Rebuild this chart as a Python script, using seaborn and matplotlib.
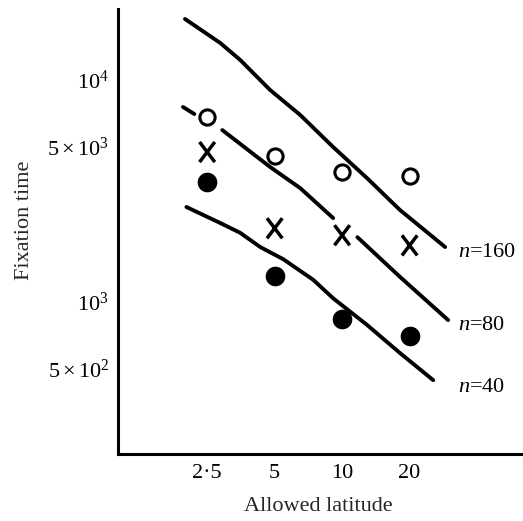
import numpy as np
import pandas as pd
import matplotlib
matplotlib.use('Agg')
import matplotlib.pyplot as plt
import seaborn as sns
from matplotlib.path import Path

# ---- data ----
latitude = [2.5, 5, 10, 20]
time_open = [6810, 4550, 3850, 3700]
time_cross = [4740, 2150, 2000, 1800]
time_filled = [3470, 1310, 840, 700]

n160_x = [1.99, 2.86, 3.51, 4.77, 6.50, 9.12, 12.9, 18.1, 28.8]
n160_y = [18830, 14680, 12310, 9020, 6960, 4990, 3620, 2600, 1770]

n80_x = [1.95, 2.19, 2.92, 4.77, 6.50, 9.12, 11.7, 18.1, 29.7]
n80_y = [7560, 7030, 5950, 4060, 3260, 2390, 1960, 1300, 830]
n80_seg = [0, 0, 1, 1, 1, 1, 2, 2, 2]

n40_x = [2.02, 2.86, 3.51, 4.31, 5.46, 7.43, 9.12, 12.9, 18.1, 25.5]
n40_y = [2680, 2270, 2050, 1770, 1560, 1260, 1040, 790, 590, 445]

curve_labels = ['$n$=160', '$n$=80', '$n$=40']
x_ticks = [2.5, 5, 10, 20]
x_ticklabels = ['2·5', '5', '10', '20']
y_ticks = [500, 1000, 5000, 10000]
y_ticklabels = [r'$5\times10^2$', r'$10^3$', r'$5\times10^3$', r'$10^4$']

# ---- style ----
sns.set_style('white')
plt.rcParams['font.family'] = ['Liberation Serif', 'DejaVu Serif']
plt.rcParams['mathtext.fontset'] = 'custom'
plt.rcParams['mathtext.rm'] = 'Liberation Serif'
plt.rcParams['mathtext.it'] = 'Liberation Serif:italic'
plt.rcParams['mathtext.sf'] = 'DejaVu Sans'
plt.rcParams['lines.solid_joinstyle'] = 'round'
plt.rcParams['lines.solid_capstyle'] = 'round'

fig = plt.figure(figsize=(5.23, 5.21), dpi=100)
ax = fig.add_axes([0.2256, 0.1286, 0.7744, 0.8541])
ax.set_xscale('log')
ax.set_yscale('log')

lw = 2.8
df160 = pd.DataFrame({'x': n160_x, 'y': n160_y})
df80 = pd.DataFrame({'x': n80_x, 'y': n80_y, 'seg': n80_seg})
df40 = pd.DataFrame({'x': n40_x, 'y': n40_y})
sns.lineplot(data=df160, x='x', y='y', color='black', lw=lw, sort=False,
             estimator=None, ax=ax)
sns.lineplot(data=df80, x='x', y='y', units='seg', color='black', lw=lw,
             sort=False, estimator=None, ax=ax)
sns.lineplot(data=df40, x='x', y='y', color='black', lw=lw, sort=False,
             estimator=None, ax=ax)

pts = pd.DataFrame({'lat': latitude, 'open': time_open,
                    'cross': time_cross, 'filled': time_filled})
sns.scatterplot(data=pts, x='lat', y='open', marker='o', s=120,
                facecolor='white', edgecolor='black', linewidth=2.2,
                ax=ax, zorder=5)
sns.scatterplot(data=pts, x='lat', y='filled', marker='o', s=200,
                color='black', edgecolor='black', linewidth=0,
                ax=ax, zorder=5)
xpath = Path([(-0.38, -0.5), (0.38, 0.5), (-0.38, 0.5), (0.38, -0.5)],
             [Path.MOVETO, Path.LINETO, Path.MOVETO, Path.LINETO])
sns.scatterplot(data=pts, x='lat', y='cross', marker=xpath, s=210,
                facecolor='none', edgecolor='black', linewidth=2.5,
                ax=ax, zorder=5)

label_y = [1680, 788, 414]
for txt, yy in zip(curve_labels, label_y):
    ax.text(32.9, yy, txt, ha='left', va='center', fontsize=16,
            color='black', clip_on=False)

ax.set_xlim(1.0, 64.1)
ax.set_ylim(207, 20880)
ax.set_xticks(x_ticks)
ax.set_xticklabels(x_ticklabels)
ax.set_yticks(y_ticks)
ax.set_yticklabels(y_ticklabels)
ax.minorticks_off()
ax.tick_params(axis='both', direction='in', length=8.6, width=1.5,
               labelsize=16, colors='black')
ax.tick_params(axis='x', pad=7)
ax.tick_params(axis='y', pad=6.5)

for s in ['top', 'right']:
    ax.spines[s].set_visible(False)
for s in ['left', 'bottom']:
    ax.spines[s].set_linewidth(2.2)
    ax.spines[s].set_color('black')

ax.set_xlabel('Allowed latitude', fontsize=16, va='center')
ax.set_ylabel('Fixation time', fontsize=16, va='center')
ax.xaxis.set_label_coords(0.494, -0.117)
ax.yaxis.set_label_coords(-0.232, 0.526)
ax.grid(False)

fig.savefig('out.png', dpi=100)
